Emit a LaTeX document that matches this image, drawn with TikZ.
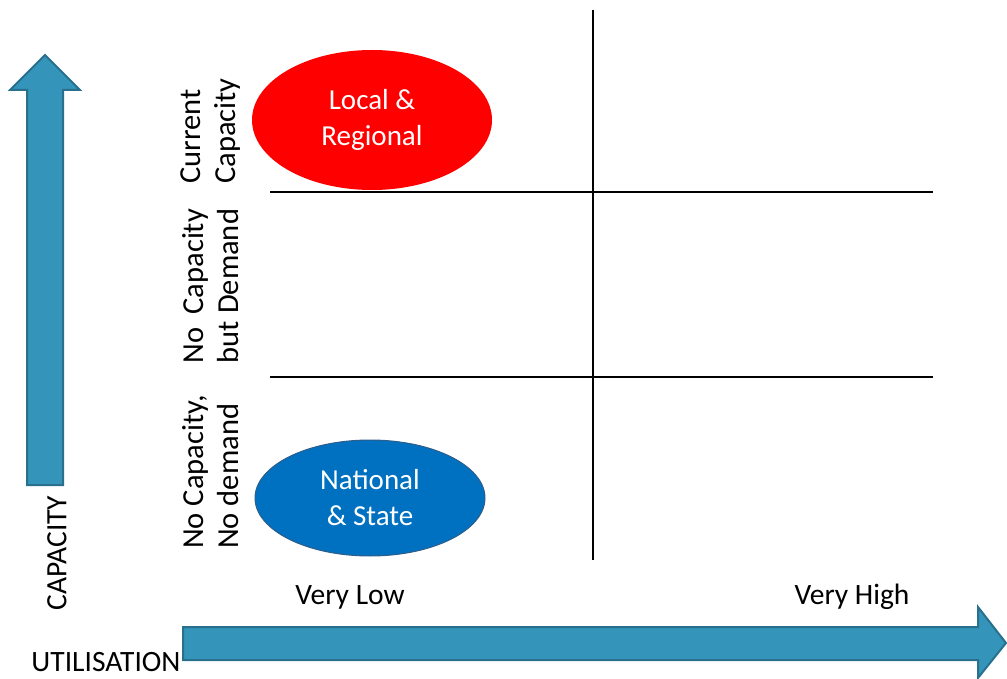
\documentclass[tikz,border=0pt]{standalone}
\usepackage{fontspec}
\setmainfont{Carlito}
\usepackage{calc}
\usetikzlibrary{shapes.geometric}
\definecolor{arrowblue}{RGB}{52,148,186}
\definecolor{arrowedge}{RGB}{40,112,142}
\definecolor{natblue}{RGB}{0,112,192}
\definecolor{natedge}{RGB}{46,94,138}
\tikzset{
  bigarrow/.style={fill=arrowblue, draw=arrowedge, line width=2pt, line join=miter},
  gridline/.style={black, line width=1.5pt},
  axistext/.style={font=\fontsize{29.5}{34}\selectfont},
  rowlabel/.style={rotate=90, align=left, font=\fontsize{30.5}{35}\selectfont},
  region/.style={ellipse, minimum width=240pt, minimum height=140pt, inner sep=0pt,
    align=center, text=white, font=\fontsize{29}{36}\selectfont}
}

\begin{document}
\begin{tikzpicture}[x=1pt,y=-1pt]
\useasboundingbox (0,0) rectangle (1007,679);
% the two axis arrows
\draw[bigarrow] (27,485)--(27,90)--(10,90)--(45,55)--(80,90)--(63,90)--(63,485)--cycle;
\draw[bigarrow] (183,627)--(978,627)--(978,607)--(1006,643)--(978,678)--(978,660)--(183,660)--cycle;
% grid
\draw[gridline] (593,10)--(593,560);
\draw[gridline] (270,192)--(933,192);
\draw[gridline] (270,377)--(933,377);
% regions
\node[region, fill=red] (local) at (372,120) {Local \&\\Regional};
\node[region, fill=natblue, draw=natedge, line width=1pt, minimum width=230pt, minimum height=116pt] (national) at (370,498) {National\\\& State};
% row labels
\node[rowlabel] (current) at (211,131) {Current\\Capacity};
\node[rowlabel] (demand) at (211,286) {\makebox[\widthof{but Demand}][s]{No Capacity}\\but Demand};
\node[rowlabel] (nodemand) at (211,472) {No Capacity,\\No demand};
% axis labels
\node[axistext, rotate=90] (capacity) at (57,553) {CAPACITY};
\node[axistext] (utilisation) at (106,662) {UTILISATION};
\node[axistext] (verylow) at (350,597) {Very Low};
\node[axistext] (veryhigh) at (852,597) {Very High};
\end{tikzpicture}
\end{document}
